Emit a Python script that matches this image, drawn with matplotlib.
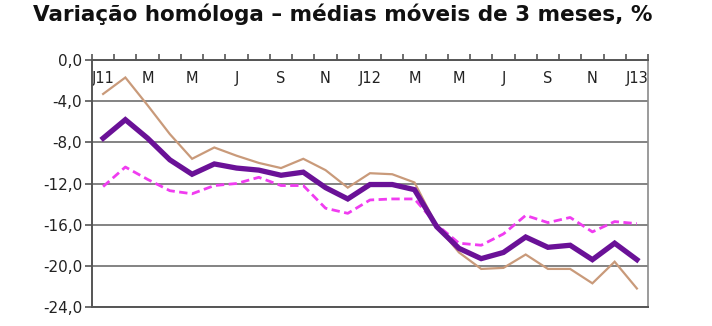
import matplotlib
matplotlib.use("Agg")
import matplotlib.pyplot as plt
import numpy as np

months = ["J11", "F", "M", "A", "M", "J", "J", "A", "S", "O", "N", "D",
          "J12", "F", "M", "A", "M", "J", "J", "A", "S", "O", "N", "D", "J13"]
tick_labels = ["J11", "M", "M", "J", "S", "N", "J12", "M", "M", "J", "S", "N", "J13"]

purple = [-7.6, -5.8, -7.6, -9.7, -11.1, -10.1, -10.5, -10.7, -11.2, -10.9, -12.4, -13.5,
          -12.1, -12.1, -12.6, -16.2, -18.3, -19.3, -18.7, -17.2, -18.2, -18.0, -19.4, -17.8, -19.4]
tan = [-3.3, -1.7, -4.4, -7.2, -9.6, -8.5, -9.3, -10.0, -10.5, -9.6, -10.7, -12.4,
       -11.0, -11.1, -11.9, -16.1, -18.7, -20.3, -20.2, -18.9, -20.3, -20.3, -21.7, -19.6, -22.2]
magenta = [-12.3, -10.4, -11.6, -12.7, -13.0, -12.2, -12.0, -11.4, -12.2, -12.2, -14.4, -14.9,
           -13.6, -13.5, -13.5, -16.0, -17.8, -18.0, -16.9, -15.1, -15.8, -15.3, -16.7, -15.7, -15.9]
y_ticks = [0.0, -4.0, -8.0, -12.0, -16.0, -20.0, -24.0]

fig = plt.figure(figsize=(7.12, 3.26), dpi=100)
ax = fig.add_axes([92/712, 1-307/326, (648-92)/712, (307-60)/326])

x = np.arange(len(months))
ax.plot(x, tan, color="#C99A7A", lw=1.6, solid_joinstyle="miter", zorder=3)
ax.plot(x, magenta, color="#F03CF0", lw=2.0, dashes=(3, 1.6), zorder=3)
ax.plot(x, purple, color="#6A1197", lw=3.8, solid_joinstyle="miter", zorder=4)

ax.set_xlim(-0.5, len(months) - 0.5)
ax.set_ylim(-24, 0)
ax.set_yticks(y_ticks)
ax.set_yticklabels([f"{v:.1f}".replace(".", ",") for v in y_ticks],
                   fontsize=11, color="#222222", family="DejaVu Sans")
ax.yaxis.grid(True, color="#7a7a7a", lw=1.3)
ax.set_axisbelow(True)
ax.tick_params(axis="y", length=5, width=1.2, color="#555555", pad=2)

ax.xaxis.set_ticks_position("top")
ax.set_xticks(x[::2])
ax.set_xticklabels(tick_labels, fontsize=10.5, color="#222222", family="DejaVu Sans")
ax.set_xticks(np.arange(-0.5, len(months), 1), minor=True)
ax.tick_params(axis="x", which="major", length=0, pad=-19, labeltop=True, labelbottom=False)
ax.tick_params(axis="x", which="minor", length=4, width=1.2, color="#555555", direction="out", top=True, bottom=False)

for s in ["top", "left", "bottom"]:
    ax.spines[s].set_color("#555555")
    ax.spines[s].set_linewidth(1.4)
ax.spines["right"].set_color("#8a8a8a")
ax.spines["right"].set_linewidth(1.2)

fig.text(33/712, 1-21/326, "Variação homóloga – médias móveis de 3 meses, %",
         fontsize=15.5, fontweight="bold", family="DejaVu Sans", va="baseline", ha="left",
         color="#111111")

fig.savefig("out.png", dpi=100)
